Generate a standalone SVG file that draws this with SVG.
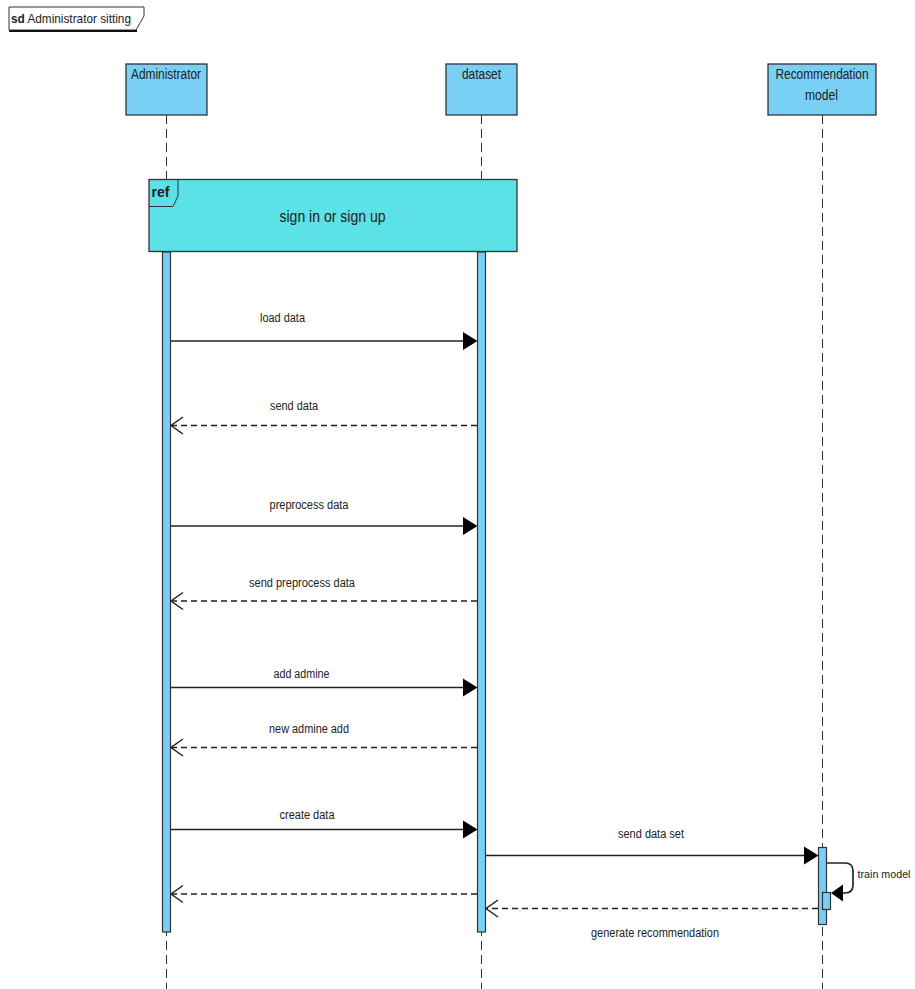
<svg xmlns="http://www.w3.org/2000/svg" width="915" height="989" viewBox="0 0 915 989">
<style>
text{font-family:"Liberation Sans",Arial,sans-serif;fill:#222}
.lbl{font-size:12px}
.hdr{font-size:14px;text-anchor:middle}
.box{fill:#7acff4;stroke:#333;stroke-width:1.3}
.bar{fill:#7acff4;stroke:#333;stroke-width:1.2}
.life{stroke:#333;stroke-width:1;stroke-dasharray:9,5;fill:none}
.msg{stroke:#222;stroke-width:1.7;fill:none}
.ret{stroke:#222;stroke-width:1.7;fill:none;stroke-dasharray:6,4}
.head{fill:#000}
.open{stroke:#222;stroke-width:1.5;fill:none}
</style>
<rect width="915" height="989" fill="#fff"/>

<g id="frame">
<path d="M9,7 H144 V16 L136,30 H9 Z" fill="#fff" stroke="#333" stroke-width="1"/>
<line x1="9" y1="31" x2="137" y2="31" stroke="#111" stroke-width="2"/>
<text x="11" y="22.5" font-size="13" textLength="120" lengthAdjust="spacingAndGlyphs"><tspan font-weight="bold">sd</tspan> Administrator sitting</text>
</g>

<g id="lifelines">
<line class="life" x1="166.5" y1="115" x2="166.5" y2="989"/>
<line class="life" x1="481.5" y1="115" x2="481.5" y2="989"/>
<line class="life" x1="822.5" y1="115" x2="822.5" y2="989"/>
</g>

<g id="administrator">
<rect class="box" x="126" y="64" width="81" height="51"/>
<text class="hdr" x="166" y="79" textLength="70" lengthAdjust="spacingAndGlyphs">Administrator</text>
<rect class="bar" x="162.5" y="252" width="8" height="680"/>
</g>

<g id="dataset">
<rect class="box" x="446" y="64" width="71" height="51"/>
<text class="hdr" x="481.5" y="79" textLength="39" lengthAdjust="spacingAndGlyphs">dataset</text>
<rect class="bar" x="477.5" y="252" width="8" height="680"/>
</g>

<g id="recommendation-model">
<rect class="box" x="768" y="64" width="108" height="51"/>
<text class="hdr" x="822" y="79" textLength="93" lengthAdjust="spacingAndGlyphs">Recommendation</text>
<text class="hdr" x="821.5" y="100" textLength="33" lengthAdjust="spacingAndGlyphs">model</text>
<rect class="bar" x="818.5" y="847.5" width="8" height="77"/>
<rect class="bar" x="822.5" y="892.5" width="8" height="17"/>
</g>

<g id="ref-sign-in">
<rect x="149" y="179.5" width="368" height="72" fill="#5ce1e6" stroke="#333" stroke-width="1.3"/>
<path d="M149,206.5 H173 L178,196 V179.5" fill="none" stroke="#333" stroke-width="1"/>
<text x="151.5" y="197" font-size="14" font-weight="bold" textLength="18" lengthAdjust="spacingAndGlyphs">ref</text>
<text x="332.5" y="221.5" font-size="16.5" text-anchor="middle" textLength="106" lengthAdjust="spacingAndGlyphs">sign in or sign up</text>
</g>

<g id="connectors">
<g id="m-load-data">
<line class="msg" x1="171" y1="341" x2="465" y2="341"/>
<polygon class="head" points="477.5,341 463,332 463,350"/>
<text class="lbl" x="260" y="322" textLength="45" lengthAdjust="spacingAndGlyphs">load data</text>
</g>
<g id="m-send-data">
<line class="ret" x1="477" y1="425.5" x2="172" y2="425.5"/>
<polyline class="open" points="183,417 171,425.5 183,434"/>
<text class="lbl" x="270" y="410" textLength="48" lengthAdjust="spacingAndGlyphs">send data</text>
</g>
<g id="m-preprocess-data">
<line class="msg" x1="171" y1="526" x2="465" y2="526"/>
<polygon class="head" points="477.5,526 463,517 463,535"/>
<text class="lbl" x="269.5" y="509" textLength="79" lengthAdjust="spacingAndGlyphs">preprocess data</text>
</g>
<g id="m-send-preprocess-data">
<line class="ret" x1="477" y1="601" x2="172" y2="601"/>
<polyline class="open" points="183,592.5 171,601 183,609.5"/>
<text class="lbl" x="249" y="586.5" textLength="106" lengthAdjust="spacingAndGlyphs">send preprocess data</text>
</g>
<g id="m-add-admine">
<line class="msg" x1="171" y1="687.5" x2="465" y2="687.5"/>
<polygon class="head" points="477.5,687.5 463,678.5 463,696.5"/>
<text class="lbl" x="273.5" y="678" textLength="56" lengthAdjust="spacingAndGlyphs">add admine</text>
</g>
<g id="m-new-admine-add">
<line class="ret" x1="477" y1="747.5" x2="172" y2="747.5"/>
<polyline class="open" points="183,739 171,747.5 183,756"/>
<text class="lbl" x="269" y="733" textLength="80" lengthAdjust="spacingAndGlyphs">new admine add</text>
</g>
<g id="m-create-data">
<line class="msg" x1="171" y1="829.5" x2="465" y2="829.5"/>
<polygon class="head" points="477.5,829.5 463,820.5 463,838.5"/>
<text class="lbl" x="279.5" y="819" textLength="55" lengthAdjust="spacingAndGlyphs">create data</text>
</g>
<g id="m-return">
<line class="ret" x1="477" y1="894" x2="172" y2="894"/>
<polyline class="open" points="183,885.5 171,894 183,902.5"/>
</g>
<g id="m-send-data-set">
<line class="msg" x1="486" y1="855.5" x2="806" y2="855.5"/>
<polygon class="head" points="818.5,855.5 804,846.5 804,864.5"/>
<text class="lbl" x="618" y="838" textLength="66" lengthAdjust="spacingAndGlyphs">send data set</text>
</g>
<g id="m-train-model">
<path class="msg" d="M827,863 H845 Q853,863 853,871 V885 Q853,893 845,893 H842"/>
<polygon class="head" points="831,893 843,884.5 843,901.5"/>
<text x="857.5" y="878" font-size="11.5" textLength="53" lengthAdjust="spacingAndGlyphs">train model</text>
</g>
<g id="m-generate-recommendation">
<line class="ret" x1="818" y1="908.5" x2="487" y2="908.5"/>
<polyline class="open" points="498,900 486,908.5 498,917"/>
<text class="lbl" x="591" y="937" textLength="128" lengthAdjust="spacingAndGlyphs">generate recommendation</text>
</g>
</g>
</svg>
